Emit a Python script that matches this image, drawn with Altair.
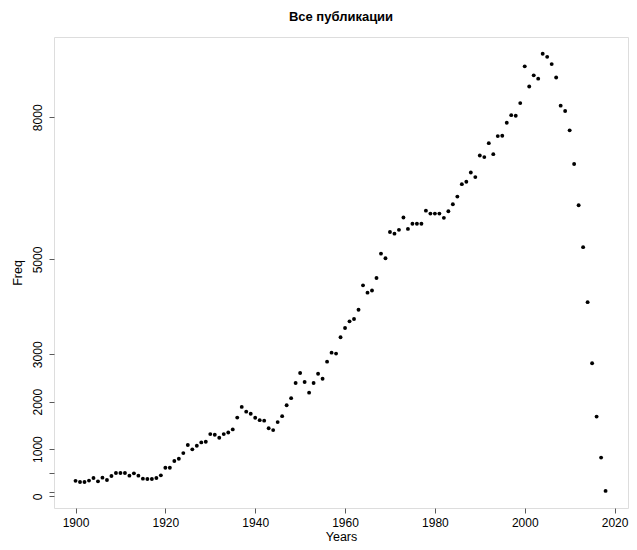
import altair as alt
import pandas as pd

years = list(range(1900, 2019))
freq = [
    330, 305, 305, 335, 390, 320, 397, 348, 432, 495,
    495, 495, 440, 488, 440, 376, 369, 369, 390, 446,
    607, 607, 748, 797, 916, 1085, 994, 1071, 1141, 1155,
    1316, 1302, 1239, 1316, 1351, 1415, 1665, 1890, 1790, 1745,
    1660, 1610, 1600, 1440, 1400, 1570, 1695, 1925, 2075, 2395,
    2605, 2415, 2190, 2395, 2590, 2485, 2845, 3035, 3015, 3360,
    3555, 3695, 3745, 3940, 4455, 4300, 4345, 4610, 5125, 5025,
    5580, 5545, 5625, 5885, 5645, 5755, 5755, 5755, 6030, 5968,
    5968, 5968, 5878, 6018, 6165, 6327, 6590, 6640, 6835, 6738,
    7195, 7160, 7455, 7222, 7603, 7610, 7885, 8045, 8032, 8300,
    9075, 8650, 8885, 8815, 9340, 9275, 9122, 8840, 8245, 8132,
    7725, 7015, 6145, 5260, 4100, 2810, 1685, 820, 117,
]
x_ticks = [1900, 1920, 1940, 1960, 1980, 2000, 2020]
y_ticks = [0, 100, 500, 1000, 2000, 3000, 5000, 8000]

df = pd.DataFrame({"Years": years, "Freq": freq})

FONT = "Liberation Sans"
GREY = "#5a5a5a"

chart = (
    alt.Chart(df, title=alt.Title(
        "Все публикации", font=FONT, fontSize=13, fontWeight="bold",
        color="black", anchor="middle", frame="group", baseline="alphabetic",
        offset=3,
    ))
    .mark_circle(size=15, color="black", opacity=1)
    .encode(
        x=alt.X("Years:Q",
                scale=alt.Scale(domain=[1895.21, 2022.99], nice=False, zero=False),
                axis=alt.Axis(values=x_ticks, format="d", domain=False, grid=False,
                              tickSize=5, tickColor=GREY, labelPadding=4,
                              labelFont=FONT, labelFontSize=12, labelColor="black",
                              labelFlush=False, labelOverlap=False,
                              title="Years", titleFont=FONT, titleFontSize=12.5,
                              titleFontWeight="normal", titleColor="black",
                              titleY=32, titleBaseline="alphabetic")),
        y=alt.Y("Freq:Q",
                scale=alt.Scale(domain=[-243, 9694], nice=False, zero=False),
                axis=alt.Axis(values=y_ticks, format="d", domain=False, grid=False,
                              tickSize=5, tickColor=GREY, labelPadding=8,
                              labelAngle=-90, labelAlign="center", labelBaseline="alphabetic",
                              labelExpr="(datum.value == 100 || datum.value == 500) ? '' : datum.label",
                              labelFont=FONT, labelFontSize=12, labelColor="black",
                              labelOverlap=False,
                              title="Freq", titleFont=FONT, titleFontSize=12.5,
                              titleFontWeight="normal", titleColor="black",
                              titleX=-33, titleY=235.5, titleAngle=-90,
                              titleAlign="center", titleBaseline="alphabetic")),
    )
    .properties(
        width=574, height=471,
        autosize=alt.AutoSizeParams(type="none"),
        padding={"left": 46, "top": 29, "right": 1, "bottom": 34},
    )
    .configure_view(stroke=GREY, strokeWidth=1)
    .configure(background="white")
)

chart.save("out.html", embed_options={"renderer": "svg", "actions": False})
